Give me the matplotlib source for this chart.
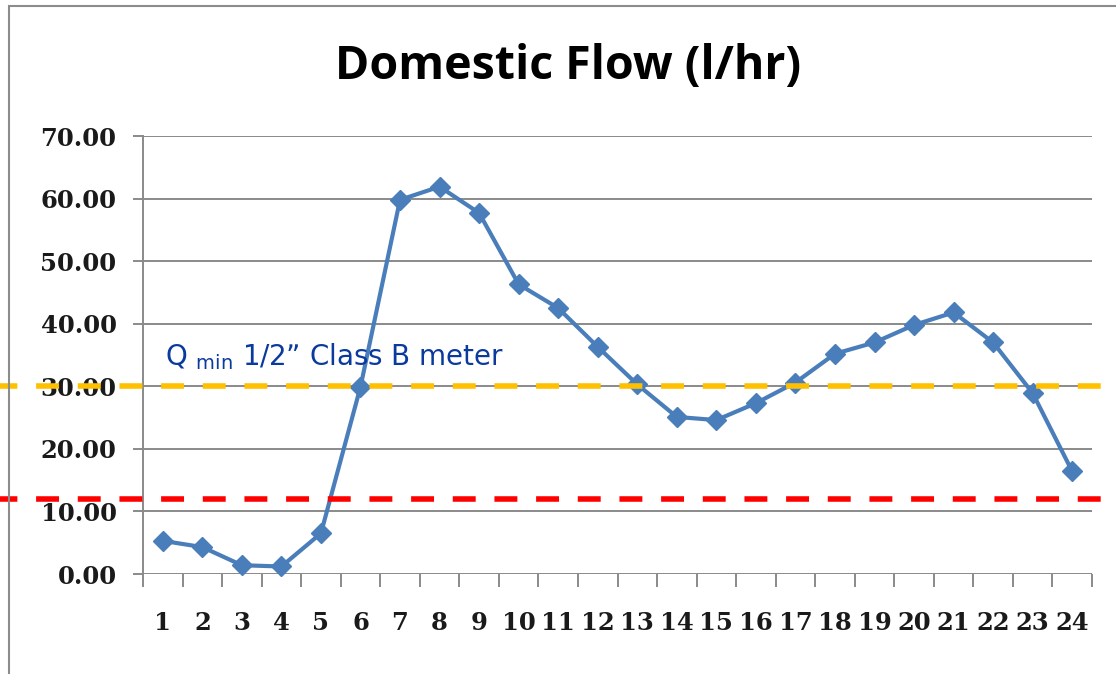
import numpy as np
import matplotlib
matplotlib.use('Agg')
import matplotlib.pyplot as plt
from matplotlib.patches import Rectangle

# Dados
horas = list(range(1, 25))
vazao = [5.3, 4.3, 1.4, 1.2, 6.5, 29.9, 59.8, 61.9, 57.7, 46.3, 42.5, 36.3,
         30.3, 25.1, 24.6, 27.3, 30.6, 35.2, 37.0, 39.8, 41.8, 37.0, 28.9, 16.4]
yticks = [0, 10, 20, 30, 40, 50, 60, 70]
qmin_classe_b = 30.1
limite_vermelho = 12.0

titulo = 'Domestic Flow (l/hr)'
rotulo_qmin = r'Q $_{\rm min}$ 1/2” Class B meter'

plt.rcParams['mathtext.fontset'] = 'dejavusans'
plt.rcParams['lines.scale_dashes'] = False

W, H = 1116, 674
fig = plt.figure(figsize=(W / 100, H / 100), dpi=100)
fig.patch.set_facecolor('white')

# moldura do gráfico (estilo Excel)
fig.patches.append(Rectangle((9 / W, -0.1), 1.2, 1.1 - 6 / H, transform=fig.transFigure,
                             fill=False, edgecolor='#8c8c8c', linewidth=1.5))

x0, x1 = 143, 1092
ax = fig.add_axes([x0 / W, 100 / H, (x1 - x0) / W, 438 / H])
ax.set_xlim(0.5, 24.5)
ax.set_ylim(0, 70)

# grade horizontal
for v in yticks:
    ax.axhline(v, color='#8a8a8a', linewidth=1.4, zorder=1)

ax.plot(horas, vazao, color='#4a7ebb', linewidth=3, marker='D', markersize=10.5,
        markeredgecolor='#4a7ebb', zorder=3, clip_on=False)

# linhas de referência tracejadas, atravessando a figura toda
ext_min = -x0 / (x1 - x0)
ext_max = (W - x0) / (x1 - x0)
ax.axhline(qmin_classe_b, xmin=ext_min, xmax=ext_max, color='#ffc000', linewidth=4,
           linestyle=(4, (16.5, 13.5)), clip_on=False, zorder=4)
ax.axhline(limite_vermelho, xmin=ext_min, xmax=ext_max, color='#ff0000', linewidth=4,
           linestyle=(4, (16.5, 13.5)), clip_on=False, zorder=4)

for lado in ['top', 'right', 'bottom']:
    ax.spines[lado].set_visible(False)
ax.spines['left'].set_color('#8a8a8a')
ax.spines['left'].set_linewidth(1.4)

ax.set_yticks(yticks)
ax.set_yticklabels(['%.2f' % v for v in yticks])
ax.set_xticks(horas)
ax.set_xticklabels([str(h) for h in horas])
ax.set_xticks(np.arange(0.5, 25, 1), minor=True)

ax.tick_params(axis='y', length=7, width=1.4, color='#8a8a8a', pad=12)
ax.tick_params(axis='x', which='major', length=0, pad=27)
ax.tick_params(axis='x', which='minor', length=9.5, width=1.4, color='#8a8a8a')
for lab in ax.get_yticklabels() + ax.get_xticklabels():
    lab.set_fontfamily('DejaVu Serif')
    lab.set_fontweight('bold')
    lab.set_fontsize(17.5)
    lab.set_color('#1a1a1a')

fig.text(568 / W, (H - 79) / H, titulo, ha='center', va='baseline', fontsize=33.5,
         fontweight='bold', family='Open Sans', color='black')

fig.text(165 / W, (H - 365) / H, rotulo_qmin, ha='left', va='baseline',
         fontsize=20, family='DejaVu Sans', color='#0a3a9e', zorder=5)

fig.savefig('out.png', dpi=100, facecolor='white')
